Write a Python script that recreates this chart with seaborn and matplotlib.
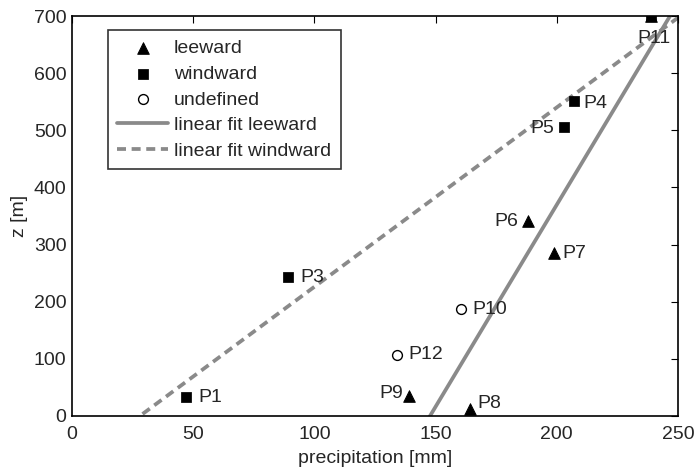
import numpy as np
import pandas as pd
import matplotlib
matplotlib.use("Agg")
import matplotlib.pyplot as plt
import seaborn as sns

# Data
names = ["P1", "P3", "P4", "P5", "P11", "P6", "P7", "P8", "P9", "P11", "P10", "P12"]
precip = [47, 89, 207, 203, 239, 188, 199, 164, 139, 239, 160.5, 134]
elev = [33, 243, 551, 506, 700, 341, 285, 12, 35, 700, 187, 107]
group = ["windward"] * 5 + ["leeward"] * 5 + ["undefined"] * 2

# linear fits: z = slope * (precip - p0)
lee_slope, lee_p0 = 7.07, 147.7
wind_slope, wind_p0 = 3.14, 28.0

sns.set_theme(style="white")
plt.rcParams["font.family"] = ["Liberation Sans", "DejaVu Sans"]

df = pd.DataFrame({"precip": precip, "z": elev, "group": group, "name": names})

fig = plt.figure(figsize=(6.95, 4.74), dpi=100)
ax = fig.add_axes([0.1036, 0.1224, 0.8719, 0.8438])

FS = 14
gray = "#8a8a8a"
xs = np.array([0, 260])
ax.plot(xs, lee_slope * (xs - lee_p0), color=gray, lw=2.7, label="linear fit leeward", zorder=1)
ax.plot(xs, wind_slope * (xs - wind_p0), color=gray, lw=2.7, ls=(0, (2.4, 1.5)),
        label="linear fit windward", zorder=1)

styles = {"leeward": "^", "windward": "s", "undefined": "o"}
for g in ["leeward", "windward", "undefined"]:
    sub = df[df.group == g]
    if g == "undefined":
        sns.scatterplot(data=sub, x="precip", y="z", marker="o", s=50,
                        facecolor="white", edgecolor="black", linewidth=1,
                        ax=ax, label=g, zorder=3)
    else:
        sns.scatterplot(data=sub, x="precip", y="z", marker=styles[g],
                        s=70 if g == "leeward" else 45, color="black",
                        edgecolor="black", ax=ax, label=g, zorder=3)

offsets = {"P1": (9, 0, "left"), "P3": (9, 0, "left"), "P4": (7, -2, "left"),
           "P5": (-7, -1, "right"), "P11": (2, -16, "center"), "P6": (-7, 0, "right"),
           "P7": (6, 0, "left"), "P8": (6, 4, "left"), "P9": (-4, 2, "right"),
           "P10": (8, 0, "left"), "P12": (8, 0, "left")}
done = set()
for n, x, y in zip(names, precip, elev):
    if n in done:
        continue
    done.add(n)
    dx, dy, ha = offsets[n]
    ax.annotate(n, (x, y), xytext=(dx, dy), textcoords="offset points",
                ha=ha, va="center", fontsize=FS)

ax.set_xlim(0, 250)
ax.set_ylim(0, 700)
ax.set_xticks([0, 50, 100, 150, 200, 250])
ax.set_yticks(range(0, 701, 100))
ax.tick_params(direction="in", top=True, right=True, length=5, labelsize=FS,
               color="black", width=0.8)
ax.tick_params(axis="x", pad=7)
ax.tick_params(axis="y", pad=4)
for s in ax.spines.values():
    s.set_color("black")
    s.set_linewidth(1.2)
ax.set_xlabel("precipitation [mm]", fontsize=FS, labelpad=5)
ax.set_ylabel("z [m]", fontsize=FS, labelpad=4)

h, l = ax.get_legend_handles_labels()
order = ["leeward", "windward", "undefined", "linear fit leeward", "linear fit windward"]
hh = [h[l.index(o)] for o in order]
leg = ax.legend(hh, order, loc="upper left", bbox_to_anchor=(0.059, 0.965),
                borderaxespad=0, fontsize=FS, frameon=True, fancybox=False,
                edgecolor="black", handlelength=2.6, borderpad=0.5,
                labelspacing=0.41, handletextpad=0.3)
leg.get_frame().set_linewidth(1.2)

fig.savefig("out.png", dpi=100)
